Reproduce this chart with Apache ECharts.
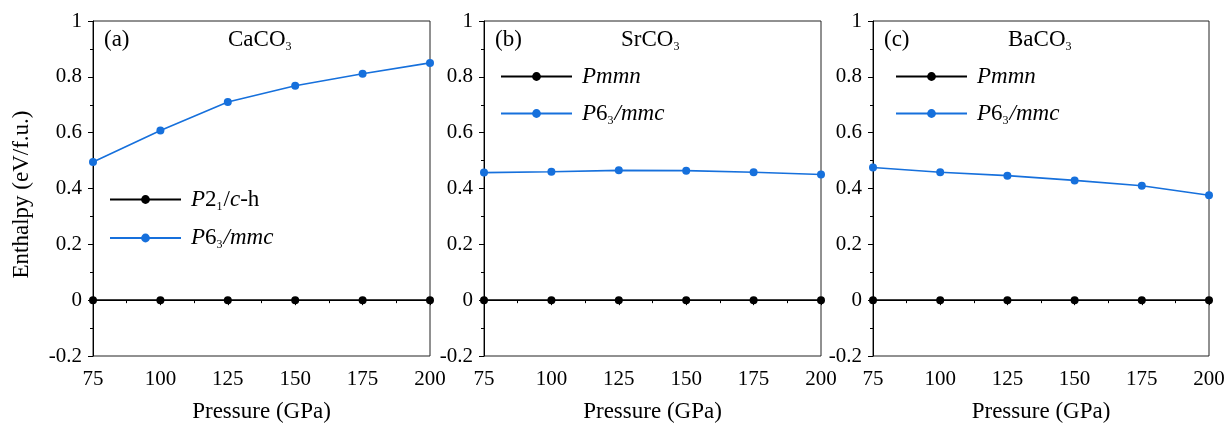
<!DOCTYPE html>
<html>
<head>
<meta charset="utf-8">
<script src="https://cdn.jsdelivr.net/npm/echarts@6/dist/echarts.min.js"></script>
<style>
  html, body { margin: 0; padding: 0; background: #fff; }
  #chart { width: 1232px; height: 424px; }
</style>
</head>
<body>
<div id="chart"></div>
<script>
// Pressure grid (GPa), shared by all three compounds
const pressures = [75, 100, 125, 150, 175, 200];

// Enthalpy of the hexagonal phase relative to the reference phase (eV/f.u.)
const caco3_P63mmc = [0.495, 0.608, 0.710, 0.768, 0.811, 0.850];
const srco3_P63mmc = [0.457, 0.460, 0.465, 0.464, 0.458, 0.450];
const baco3_P63mmc = [0.475, 0.458, 0.446, 0.429, 0.410, 0.376];
// Reference phases sit at zero
const caco3_ref = [0, 0, 0, 0, 0, 0];
const srco3_ref = [0, 0, 0, 0, 0, 0];
const baco3_ref = [0, 0, 0, 0, 0, 0];

const panelLabels = ['(a)', '(b)', '(c)'];
const compounds = [['CaCO', '3'], ['SrCO', '3'], ['BaCO', '3']];
const refNames = ['P21/c-h', 'Pmmn', 'Pmmn'];
const hexName = 'P63/mmc';

const FONT = '"Liberation Serif", "Times New Roman", serif';
const BLUE = '#1670dc';
const BLACK = '#000';

const chart = echarts.init(document.getElementById('chart'));

// plot-area boxes in pixels
const grids = [
  { left: 93, width: 337 },
  { left: 484, width: 337 },
  { left: 873, width: 336 }
];

const richText = {
  n:  { fontFamily: FONT, fontSize: 23, color: BLACK, lineHeight: 26 },
  i:  { fontFamily: FONT, fontSize: 23, color: BLACK, lineHeight: 26, fontStyle: 'italic' },
  s:  { fontFamily: FONT, fontSize: 12, color: BLACK, verticalAlign: 'bottom', lineHeight: 12, padding: [0, 1, 0, 0] }
};

function legendText(name) {
  if (name === 'P21/c-h') return '{i|P}{n|2}{s|1}{n|/}{i|c}{n|-h}';
  if (name === 'P63/mmc') return '{i|P}{n|6}{s|3}{i|/mmc}';
  return '{i|' + name + '}';
}

const refData = [caco3_ref, srco3_ref, baco3_ref];
const hexData = [caco3_P63mmc, srco3_P63mmc, baco3_P63mmc];

const option = {
  animation: false,
  backgroundColor: '#fff',
  grid: grids.map(g => ({
    left: g.left, width: g.width, top: 21, bottom: 68,
    show: true, borderColor: '#222', borderWidth: 1,
    containLabel: false, outerBoundsMode: 'none'
  })),
  xAxis: grids.map((g, k) => ({
    gridIndex: k, type: 'value', min: 75, max: 200, interval: 25,
    name: 'Pressure (GPa)', nameLocation: 'middle', nameGap: 44,
    nameTextStyle: { fontFamily: FONT, fontSize: 23, color: BLACK },
    axisLine: { lineStyle: { color: BLACK, width: 1 } },
    axisTick: { inside: false, length: 5, lineStyle: { color: BLACK } },
    minorTick: { show: true, splitNumber: 2, length: 3, lineStyle: { color: BLACK } },
    axisLabel: { fontFamily: FONT, fontSize: 21, color: BLACK, margin: 13 },
    splitLine: { show: false }
  })),
  yAxis: grids.map((g, k) => ({
    gridIndex: k, type: 'value', min: -0.2, max: 1, interval: 0.2,
    name: k === 0 ? 'Enthalpy (eV/f.u.)' : '', nameLocation: 'middle', nameGap: 60,
    nameTextStyle: { fontFamily: FONT, fontSize: 23, color: BLACK, padding: [0, 12, 0, 0] },
    axisLine: { show: true, lineStyle: { color: BLACK, width: 1 } },
    axisTick: { inside: false, length: 5, lineStyle: { color: BLACK } },
    minorTick: { show: true, splitNumber: 2, length: 3, lineStyle: { color: BLACK } },
    axisLabel: { fontFamily: FONT, fontSize: 21, color: BLACK, margin: 11,
      formatter: v => String(Math.round(v * 10) / 10) },
    splitLine: { show: false }
  })),
  legend: [
    { left: 109, top: 188, data: [refNames[0], hexName] },
    { left: 500, top: 65, data: [refNames[1], hexName] },
    { left: 895, top: 65, data: [refNames[2], hexName] }
  ].map(l => Object.assign(l, {
    orient: 'vertical', padding: 0,
    itemWidth: 71, itemHeight: 11, itemGap: 14,
    formatter: legendText,
    textStyle: { fontFamily: FONT, fontSize: 23, color: BLACK, padding: [0, 0, 0, 5], rich: richText },
    selectedMode: false
  })),
  graphic: grids.map((g, k) => [
    { type: 'text', left: g.left + 11, top: 28,
      style: { text: panelLabels[k], font: '23px ' + FONT, fill: BLACK } },
    { type: 'text', left: g.left + [135, 137, 135][k], top: 28,
      style: { text: '{n|' + compounds[k][0] + '}{s|' + compounds[k][1] + '}', rich: richText } }
  ]).flat(),
  series: [0, 1, 2].map(k => [
    { name: refNames[k], type: 'line', xAxisIndex: k, yAxisIndex: k,
      data: pressures.map((p, j) => [p, refData[k][j]]),
      symbol: 'circle', symbolSize: 8, z: 3,
      lineStyle: { color: BLACK, width: 1.6 }, itemStyle: { color: BLACK } },
    { name: hexName, type: 'line', xAxisIndex: k, yAxisIndex: k,
      data: pressures.map((p, j) => [p, hexData[k][j]]),
      symbol: 'circle', symbolSize: 8, z: 3,
      lineStyle: { color: BLUE, width: 1.6 }, itemStyle: { color: BLUE } }
  ]).flat()
};

chart.setOption(option);
</script>
</body>
</html>
